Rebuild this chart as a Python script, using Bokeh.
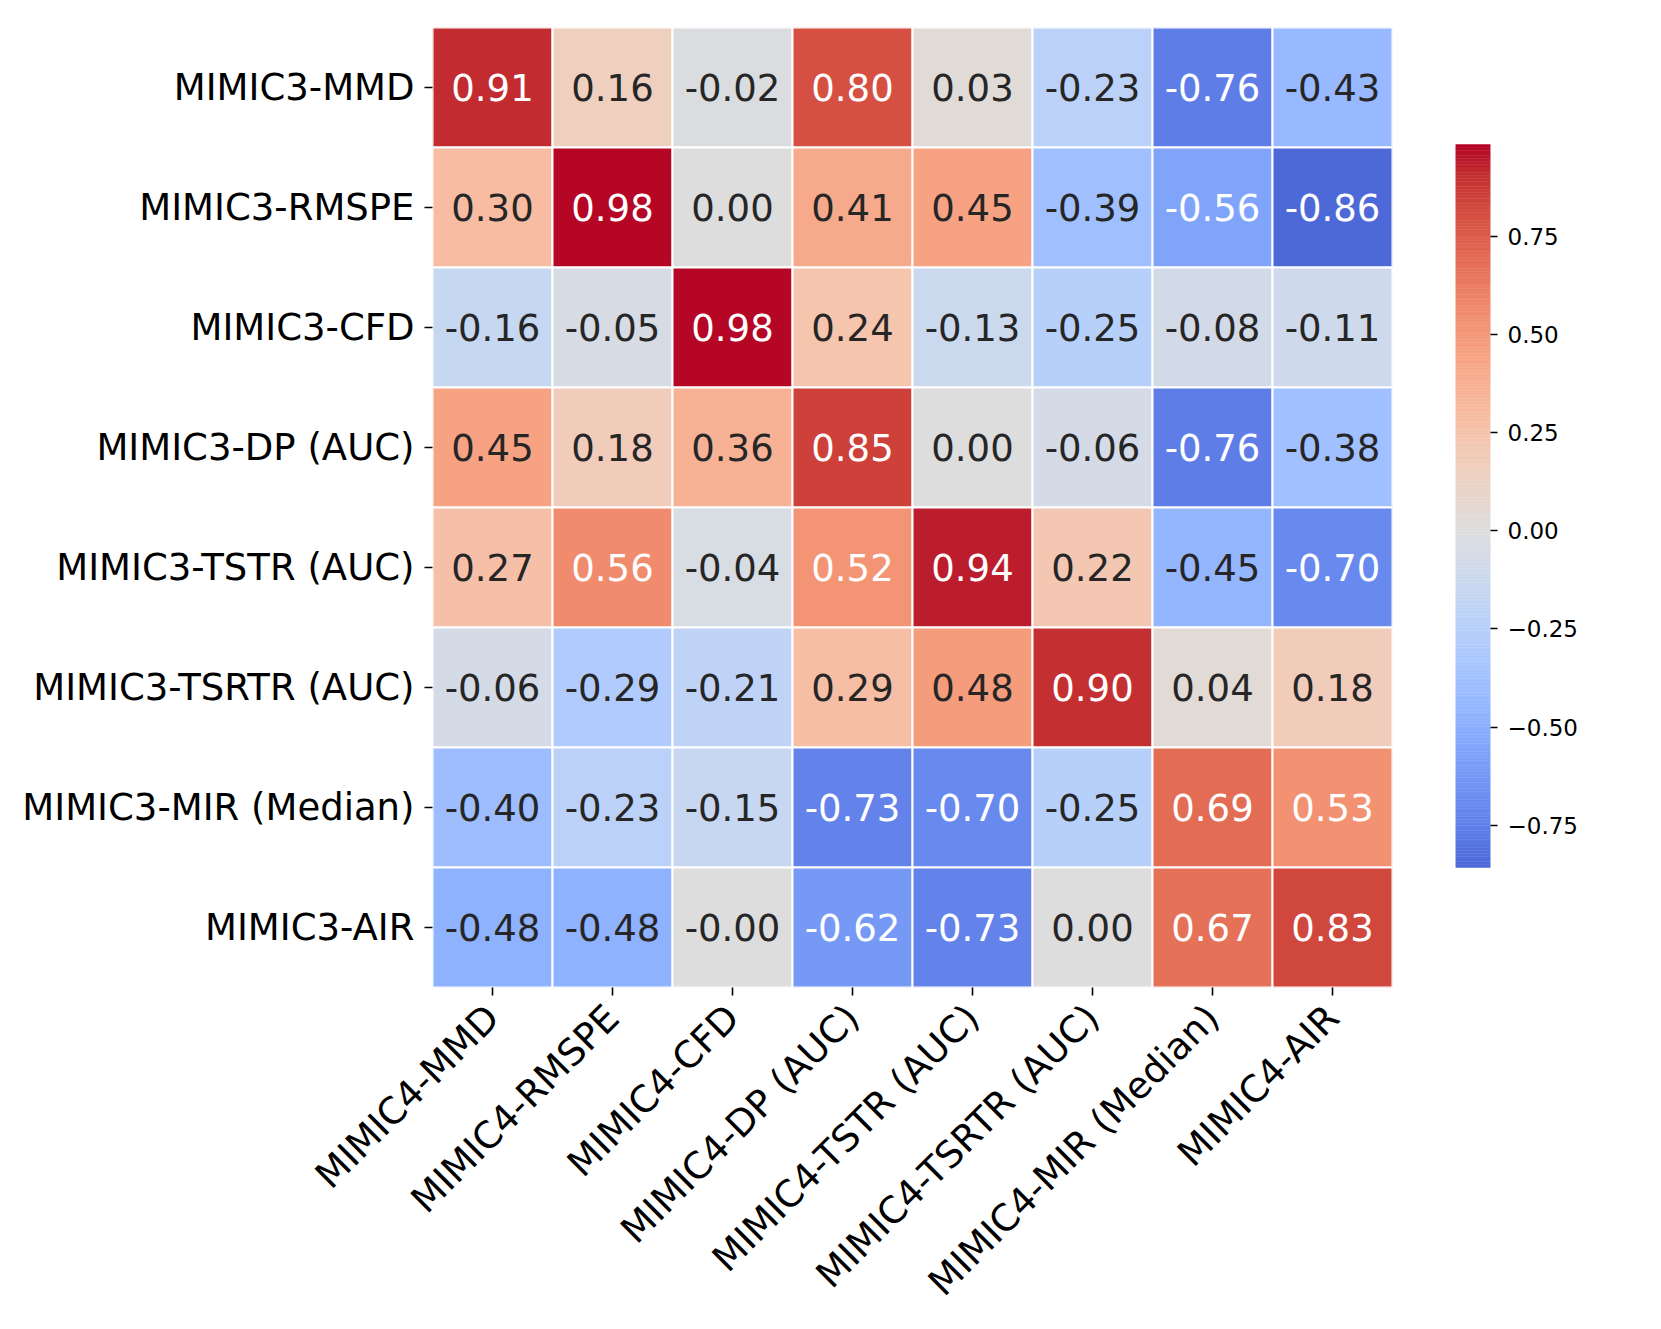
import math
from bokeh.plotting import figure
from bokeh.models import FactorRange, Range1d, FixedTicker, ColumnDataSource, CustomJSTickFormatter
from bokeh.layouts import row
from bokeh.core.properties import value
from bokeh.embed import file_html
from bokeh.resources import INLINE

# ---------------- data ----------------
row_labels = ["MIMIC3-MMD", "MIMIC3-RMSPE", "MIMIC3-CFD", "MIMIC3-DP (AUC)",
              "MIMIC3-TSTR (AUC)", "MIMIC3-TSRTR (AUC)", "MIMIC3-MIR (Median)", "MIMIC3-AIR"]
col_labels = ["MIMIC4-MMD", "MIMIC4-RMSPE", "MIMIC4-CFD", "MIMIC4-DP (AUC)",
              "MIMIC4-TSTR (AUC)", "MIMIC4-TSRTR (AUC)", "MIMIC4-MIR (Median)", "MIMIC4-AIR"]

row_mmd   = [0.91, 0.16, -0.02, 0.80, 0.03, -0.23, -0.76, -0.43]
row_rmspe = [0.30, 0.98, 0.00, 0.41, 0.45, -0.39, -0.56, -0.86]
row_cfd   = [-0.16, -0.05, 0.98, 0.24, -0.13, -0.25, -0.08, -0.11]
row_dp    = [0.45, 0.18, 0.36, 0.85, 0.00, -0.06, -0.76, -0.38]
row_tstr  = [0.27, 0.56, -0.04, 0.52, 0.94, 0.22, -0.45, -0.70]
row_tsrtr = [-0.06, -0.29, -0.21, 0.29, 0.48, 0.90, 0.04, 0.18]
row_mir   = [-0.40, -0.23, -0.15, -0.73, -0.70, -0.25, 0.69, 0.53]
row_air   = [-0.48, -0.48, -0.0, -0.62, -0.73, 0.00, 0.67, 0.83]
matrix = [row_mmd, row_rmspe, row_cfd, row_dp, row_tstr, row_tsrtr, row_mir, row_air]

cbar_ticks = [-0.75, -0.50, -0.25, 0.00, 0.25, 0.50, 0.75]
VMIN, VMAX, CENTER = -0.857, 0.983, 0.0

# ---------------- coolwarm colormap ----------------
_cw = [
    (59, 76, 192), (68, 90, 204), (77, 104, 215), (87, 117, 225), (98, 130, 234),
    (108, 142, 241), (119, 154, 247), (130, 165, 251), (141, 176, 254), (152, 185, 255),
    (163, 194, 255), (174, 201, 253), (184, 208, 249), (194, 213, 244), (204, 217, 238),
    (213, 219, 230), (221, 221, 221), (229, 216, 209), (236, 211, 197), (241, 204, 185),
    (245, 196, 173), (247, 187, 160), (247, 177, 148), (247, 166, 135), (244, 154, 123),
    (241, 141, 111), (236, 127, 99), (229, 112, 88), (222, 96, 77), (213, 80, 66),
    (203, 62, 56), (192, 40, 47), (180, 4, 38)]


def cw_rgb(t):
    t = min(max(t, 0.0), 1.0)
    f = t * (len(_cw) - 1)
    i = min(int(f), len(_cw) - 2)
    u = f - i
    a, b = _cw[i], _cw[i + 1]
    return tuple(a[k] + (b[k] - a[k]) * u for k in range(3))


vrange = max(VMAX - CENTER, CENTER - VMIN)


def to_t(v):
    return (v - (CENTER - vrange)) / (2 * vrange)


def hexcol(rgb):
    return "#%02x%02x%02x" % tuple(int(round(c)) for c in rgb)


def luminance(rgb):
    out = []
    for c in rgb:
        c = c / 255.0
        out.append(c / 12.92 if c <= 0.03928 else ((c + 0.055) / 1.055) ** 2.4)
    return 0.2126 * out[0] + 0.7152 * out[1] + 0.0722 * out[2]


xs, ys, fills, texts, tcols = [], [], [], [], []
for r, rl in enumerate(row_labels):
    for c, cl in enumerate(col_labels):
        v = matrix[r][c]
        rgb = cw_rgb(to_t(v))
        xs.append(cl)
        ys.append(rl)
        fills.append(hexcol(rgb))
        texts.append(f"{v:.2f}")
        tcols.append("#262626" if luminance(rgb) > 0.42 else "#ffffff")

src = ColumnDataSource(dict(x=xs, y=ys, fill=fills, text=texts, tcol=tcols))

FONT = "DejaVu Sans"
FS = "37px"
H = 1322
TOP = 27
FRAME = 960
BOTTOM = H - TOP - FRAME

p = figure(width=432 + FRAME + 63, height=H, output_backend="svg", toolbar_location=None,
           x_range=FactorRange(*col_labels), y_range=FactorRange(*reversed(row_labels)),
           min_border_left=432, min_border_right=63, min_border_top=TOP,
           min_border_bottom=BOTTOM)
p.rect(x="x", y="y", width=1, height=1, source=src, fill_color="fill",
       line_color="white", line_width=2)
p.text(x="x", y="y", text="text", source=src, text_color="tcol",
       text_align="center", text_baseline="middle", text_font_size=FS,
       text_font=value(FONT))
p.outline_line_color = None
p.grid.visible = False
p.x_range.range_padding = 0
p.y_range.range_padding = 0
for ax in (p.xaxis, p.yaxis):
    ax.axis_line_color = None
    ax.major_tick_in = 0
    ax.major_tick_out = 8
    ax.major_tick_line_width = 1.6
    ax.major_tick_line_color = "black"
    ax.minor_tick_line_color = None
    ax.major_label_text_font = FONT
    ax.major_label_text_font_size = FS
    ax.major_label_text_color = "black"
    ax.major_label_standoff = 10
p.xaxis.major_label_orientation = math.pi / 4
p.xaxis.major_label_standoff = 16

# ---------------- colorbar (same frame geometry as the heatmap) ----------------
CB_TOP_GAP = 117      # from heatmap frame top to colorbar top, px
CB_BOTTOM_GAP = 120   # from colorbar bottom to heatmap frame bottom, px
cb_len = FRAME - CB_TOP_GAP - CB_BOTTOM_GAP
dpp = (VMAX - VMIN) / cb_len
N = 256
step = (VMAX - VMIN) / N
bottoms = [VMIN + i * step for i in range(N)]
tops = [b + step for b in bottoms]
ccols = [hexcol(cw_rgb(to_t((b + t) / 2))) for b, t in zip(bottoms, tops)]
csrc = ColumnDataSource(dict(bottom=bottoms, top=tops, color=ccols))

cb = figure(width=35 + 150, height=H, output_backend="svg", toolbar_location=None,
            x_range=Range1d(0, 1),
            y_range=Range1d(VMIN - CB_BOTTOM_GAP * dpp, VMAX + CB_TOP_GAP * dpp),
            y_axis_location="right",
            min_border_left=0, min_border_right=150, min_border_top=TOP,
            min_border_bottom=BOTTOM)
cb.quad(left=0, right=1, bottom="bottom", top="top", source=csrc,
        fill_color="color", line_color="color", line_width=0.5)
cb.xaxis.visible = False
cb.grid.visible = False
cb.outline_line_color = None
ya = cb.yaxis[0]
ya.ticker = FixedTicker(ticks=cbar_ticks)
ya.formatter = CustomJSTickFormatter(code="return tick.toFixed(2).replace('-', '\u2212');")
ya.axis_line_color = None
ya.major_tick_in = 0
ya.major_tick_out = 7
ya.major_tick_line_width = 1.6
ya.minor_tick_line_color = None
ya.major_label_text_font = FONT
ya.major_label_text_font_size = "23px"
ya.major_label_text_color = "black"
ya.major_label_standoff = 10

layout = row(p, cb)
open("out.html", "w").write(file_html(layout, INLINE))
